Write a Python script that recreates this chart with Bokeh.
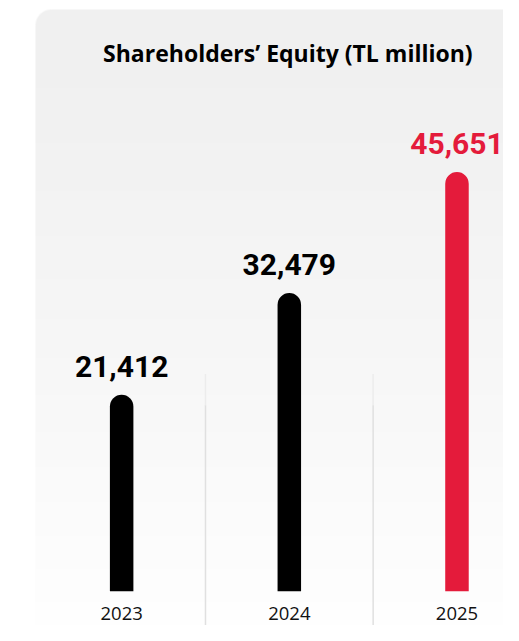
import numpy as np
from bokeh.plotting import figure
from bokeh.models import Range1d, Label, ColumnDataSource
from bokeh.core.properties import value
from bokeh.embed import file_html
from bokeh.resources import INLINE

# ---- data ----
years = ["2023", "2024", "2025"]
equity = [21412, 32479, 45651]
value_labels = ["21,412", "32,479", "45,651"]
bar_colors = ["#000000", "#000000", "#e41b3b"]
title_text = "Shareholders\u2019 Equity (TL million)"

# ---- layout (reference 519x641 scaled into a 503x625 canvas) ----
W, H = 503, 625
SX, SY = W / 519.0, H / 641.0
X0, XPX = 125.0 * SX, 173.0 * SX       # canvas x of first category, px per category
BASE = 606.0 * SY                      # canvas y of value 0
YPX = 9.42 / 1000.0 * SY               # px per unit value
TXT_SHIFT = 0.4                        # em correction for rendered text baseline


def cx(c):
    return (c - X0) / XPX


def cy(c):
    return (BASE - c) / YPX


p = figure(width=W, height=H, output_backend="svg", toolbar_location=None,
           x_range=Range1d(cx(0), cx(W)), y_range=Range1d(cy(H), cy(0)),
           x_axis_location=None, y_axis_location=None,
           min_border=0, outline_line_color=None)
p.grid.visible = False
p.background_fill_color = "white"
p.border_fill_color = "white"

# ---- panel background with vertical gradient and rounded top-left corner ----
px0, py0 = int(round(36 * SX)), int(round(9 * SY))
nx, ny = W - px0, H - py0
rows = np.arange(ny, dtype=float)
g = np.clip(240 + 15 * (rows / (H + 8 - py0)) ** 1.3, 0, 255)
img = np.zeros((ny, nx, 4), dtype=np.uint8)
img[..., 0] = g[:, None]
img[..., 1] = g[:, None]
img[..., 2] = g[:, None]
R = 16.0
yy, xx = np.mgrid[0:ny, 0:nx] + 0.5
d = np.hypot(np.maximum(R - xx, 0), np.maximum(R - yy, 0))
cov = np.clip(R - d + 0.5, 0, 1)
mask = (xx < R) & (yy < R)
alpha = np.where(mask, cov, 1.0) * 255
img[..., 3] = alpha.astype(np.uint8)
img = np.ascontiguousarray(img[::-1])
p.image_rgba(image=[img.view(np.uint32).reshape(ny, nx)], x=cx(px0), y=cy(H),
             dw=cx(W) - cx(px0), dh=cy(py0) - cy(H))

# ---- separators ----
sep_x = [0.5, 1.5]
p.segment(x0=sep_x, x1=sep_x, y0=cy(383 * SY), y1=cy(415 * SY), line_color="#ececec", line_width=1.5)
p.segment(x0=sep_x, x1=sep_x, y0=cy(415 * SY), y1=cy(H), line_color="#e0e0e0", line_width=1.5)

# ---- bars ----
xs = list(range(len(years)))
VAL_FS = 30
src = ColumnDataSource(dict(
    x=xs, top=equity, color=bar_colors, label=value_labels, year=years,
    label_y=[v + (16.5 + TXT_SHIFT * VAL_FS) / YPX for v in equity],
))
p.vbar(x="x", top="top", bottom=0, width=23.5 / XPX, fill_color="color",
       line_color=None, border_radius=(12, 12, 0, 0), source=src)

# ---- value labels ----
p.text(x="x", y="label_y", text="label", text_color="color", source=src,
       text_font=value("Roboto"), text_font_style="bold", text_font_size=f"{VAL_FS}px",
       text_align="center", text_baseline="alphabetic")

# ---- year labels ----
YR_FS = 18.5
p.text(x="x", y=cy(636 * SY - TXT_SHIFT * YR_FS), text="year", source=src, text_color="#111111",
       text_font=value("Open Sans"), text_font_size=f"{YR_FS}px",
       text_align="center", text_baseline="alphabetic")

# ---- title ----
TT_FS = 23
p.add_layout(Label(x=cx(296.5 * SX), y=cy(63 * SY - TXT_SHIFT * TT_FS), text=title_text,
                   text_align="center", text_baseline="alphabetic", text_font="Open Sans",
                   text_font_style="bold", text_font_size=f"{TT_FS}px", text_color="#000000"))

open("out.html", "w").write(file_html(p, INLINE))
